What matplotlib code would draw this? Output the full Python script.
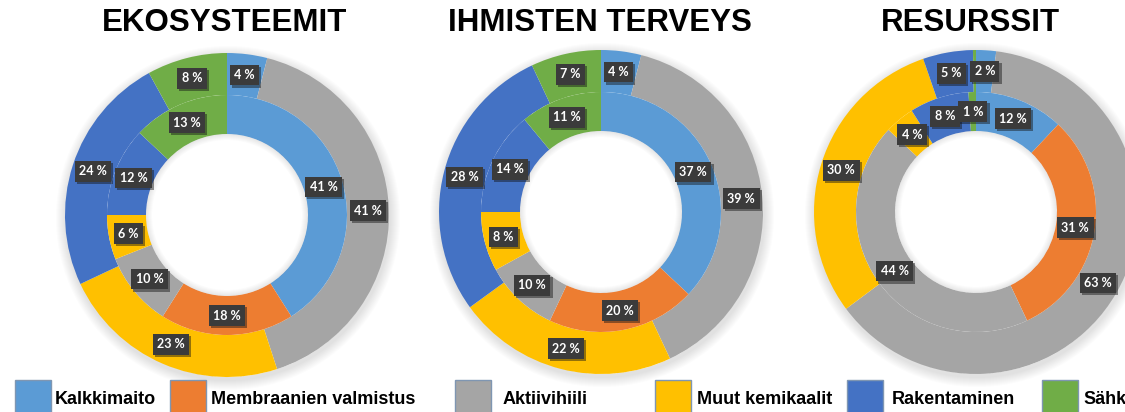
import matplotlib.pyplot as plt
import matplotlib.patheffects as pe
from matplotlib.patches import Rectangle, Wedge
import numpy as np

categories = ['Kalkkimaito', 'Membraanien valmistus', 'Aktiivihiili',
              'Muut kemikaalit', 'Rakentaminen', 'Sähkö']
colors = ['#5B9BD5', '#ED7D31', '#A5A5A5', '#FFC000', '#4472C4', '#70AD47']

titles = ['EKOSYSTEEMIT', 'IHMISTEN TERVEYS', 'RESURSSIT']

# inner ring / outer ring values (%), order as categories
eko_inner = [41, 18, 10, 6, 12, 13]
eko_outer = [4, 0, 41, 23, 24, 8]
ihm_inner = [37, 20, 10, 8, 14, 11]
ihm_outer = [4, 0, 39, 22, 28, 7]
res_inner = [12, 31, 44, 4, 8, 1]
res_outer = [2, 0, 63, 30, 5, 0.3]

charts = [(eko_inner, eko_outer), (ihm_inner, ihm_outer), (res_inner, res_outer)]

W, H = 1125, 412
centers = [(227, 215), (601, 212), (976, 212)]
title_x = [225, 600, 970]
R_OUT, R_MID, R_IN = 162, 120, 81
HALF = 175

fig = plt.figure(figsize=(W / 100, H / 100), dpi=100)
fig.patch.set_facecolor('white')


def add_labels(ax, vals, r):
    tot = float(sum(vals))
    cum = 0.0
    for v in vals:
        mid = (cum + v / 2) / tot * 2 * np.pi
        cum += v
        if v < 1:
            continue
        x, y = r * np.sin(mid), r * np.cos(mid)
        t = ax.text(x, y, '%d %%' % round(v), ha='center', va='center',
                    color='white', fontsize=9, fontweight='bold', family='Lato',
                    bbox=dict(boxstyle='square,pad=0.35', fc='#3B3B3B', ec='none'),
                    zorder=10)
        t.get_bbox_patch().set_path_effects(
            [pe.SimplePatchShadow(offset=(1.5, -1.5), alpha=0.45), pe.Normal()])


for (inner, outer), (cx, cy) in zip(charts, centers):
    ax = fig.add_axes([(cx - HALF) / W, (H - cy - HALF) / H, 2 * HALF / W, 2 * HALF / H])
    ax.axis('off')

    # soft shadow around the donut
    for k in range(1, 11):
        ax.add_patch(Wedge((1, -3), R_OUT + k, 0, 360, width=k + 3, color='#808080',
                           alpha=0.022, lw=0, zorder=0))

    ax.pie(outer, colors=colors, radius=R_OUT, startangle=90, counterclock=False,
           wedgeprops=dict(width=R_OUT - R_MID, linewidth=0))
    ax.pie(inner, colors=colors, radius=R_MID, startangle=90, counterclock=False,
           wedgeprops=dict(width=R_MID - R_IN, linewidth=0))
    ax.set_xlim(-HALF, HALF)
    ax.set_ylim(-HALF, HALF)
    ax.set_aspect('equal')

    # inner shadow in the hole
    for k in range(1, 7):
        ax.add_patch(Wedge((0, 0), R_IN, 0, 360, width=k, color='#808080',
                           alpha=0.03, lw=0, zorder=3))

    add_labels(ax, outer, (R_OUT + R_MID) / 2)
    add_labels(ax, inner, (R_MID + R_IN) / 2)

# overlay for titles and legend
ov = fig.add_axes([0, 0, 1, 1], zorder=20)
ov.set_xlim(0, W)
ov.set_ylim(H, 0)
ov.axis('off')
ov.patch.set_alpha(0)

for t, x in zip(titles, title_x):
    ov.text(x, 23, t, ha='center', va='center', fontsize=22.5, fontweight='bold',
            family='Liberation Sans', color='black')

patch_x = [15, 170, 455, 655, 847, 1042]
text_x = [55, 211, 503, 697, 892, 1083]
for name, c, px, tx in zip(categories, colors, patch_x, text_x):
    ov.add_patch(Rectangle((px, 380), 36, 40, fc=c, ec='#7F96B2', lw=1))
    ov.text(tx, 399, name, ha='left', va='center', fontsize=13, fontweight='bold',
            family='Liberation Sans', color='black')

fig.savefig('out.png', dpi=100, facecolor='white')
